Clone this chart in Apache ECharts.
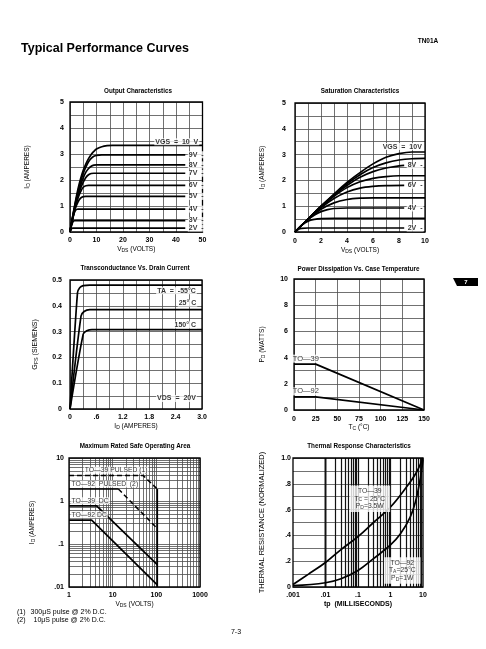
<!DOCTYPE html>
<html><head><meta charset="utf-8"><title>TN01A Typical Performance Curves</title>
<script src="https://cdn.jsdelivr.net/npm/echarts@6/dist/echarts.min.js"></script>
<style>html,body{margin:0;padding:0;background:#fff;}#c{width:486px;height:649px;}</style>
</head><body><div id="c"></div>
<script>
const FONT = '"Liberation Sans", Arial, Helvetica, sans-serif';

// ================= DATA =================
// Output Characteristics: [VDS (V), ID (A)] per VGS
const out10 = [[0,0],[1,0.6],[2,1.15],[3,1.65],[4,2.05],[5,2.37],[6,2.62],[7,2.82],[8,2.98],[9,3.1],[10,3.19],[12,3.28],[14,3.32],[16,3.33],[50,3.33]];
const out9  = [[0,0],[1,0.58],[2,1.1],[3,1.55],[4,1.93],[5,2.25],[6,2.5],[7,2.7],[8,2.83],[9,2.91],[10,2.95],[12,2.97],[43.5,2.97]];
const out8  = [[0,0],[1,0.56],[2,1.05],[3,1.45],[4,1.8],[5,2.08],[6,2.3],[7,2.44],[8,2.53],[9,2.57],[10,2.58],[43.5,2.58]];
const out7  = [[0,0],[1,0.54],[2,1.0],[3,1.38],[4,1.68],[5,1.92],[6,2.1],[7,2.2],[8,2.25],[9,2.26],[43.5,2.26]];
const out6  = [[0,0],[1,0.52],[2,0.95],[3,1.3],[4,1.55],[5,1.72],[6,1.78],[7,1.79],[43.5,1.79]];
const out5  = [[0,0],[1,0.5],[2,0.9],[3,1.15],[4,1.3],[5,1.36],[6,1.37],[43.5,1.37]];
const out4  = [[0,0],[0.5,0.3],[1,0.52],[1.5,0.7],[2,0.82],[2.5,0.87],[3,0.88],[43.5,0.88]];
const out3  = [[0,0],[0.5,0.22],[1,0.37],[1.5,0.43],[2,0.44],[43.5,0.44]];
const out2  = [[0,0],[0.3,0.08],[0.6,0.13],[1,0.15],[43.5,0.15]];
const outLabeled = [out9,out8,out7,out6,out5,out4,out3,out2];
const outNames = ['9V','8V','7V','6V','5V','4V','3V','2V'];

// Saturation Characteristics: [VDS (V), ID (A)]
const sat10 = [[0,0],[1,0.5],[2,1.0],[3,1.47],[4,1.92],[5,2.3],[6,2.64],[7,2.9],[8,3.04],[9,3.1],[10,3.1]];
const sat9  = [[0,0],[1,0.5],[2,1.0],[3,1.45],[4,1.87],[5,2.22],[6,2.5],[7,2.68],[8,2.79],[9,2.84],[10,2.85]];
const sat8  = [[0,0],[1,0.5],[2,0.99],[3,1.42],[4,1.8],[5,2.12],[6,2.34],[7,2.48],[8,2.56],[8.4,2.58]];
const sat7  = [[0,0],[1,0.5],[2,0.97],[3,1.38],[4,1.72],[5,1.95],[6,2.08],[7,2.15],[8,2.18],[10,2.18]];
const sat6  = [[0,0],[1,0.5],[2,0.94],[3,1.3],[4,1.55],[5,1.7],[6,1.77],[7,1.8],[8.4,1.81]];
const sat5  = [[0,0],[1,0.49],[2,0.88],[3,1.13],[4,1.26],[5,1.31],[6,1.32],[10,1.32]];
const sat4  = [[0,0],[0.5,0.26],[1,0.48],[1.5,0.66],[2,0.79],[2.5,0.87],[3,0.91],[4,0.93],[8.4,0.93]];
const sat3  = [[0,0],[0.5,0.26],[1,0.42],[1.5,0.49],[2,0.52],[3,0.53],[10,0.53]];
const sat2  = [[0,0],[0.25,0.1],[0.5,0.14],[1,0.155],[8.4,0.155]];
const satLabeled = [sat8,sat6,sat4,sat2];
const satNames = ['8V','6V','4V','2V'];

// Transconductance: [ID (A), gfs (S)]
const gfsM55 = [[0,0],[0.17,0.45],[0.22,0.47],[0.3,0.478],[0.45,0.48],[3.0,0.48]];
const gfs25  = [[0,0],[0.25,0.36],[0.32,0.378],[0.45,0.385],[3.0,0.385]];
const gfs150 = [[0,0],[0.3,0.29],[0.38,0.303],[0.5,0.308],[3.0,0.308]];

// Power dissipation: [TC (°C), PD (W)]
const pdTO39 = [[0,3.5],[25,3.5],[150,0]];
const pdTO92 = [[0,1.0],[25,1.0],[150,0]];

// Safe operating area: [VDS (V), ID (A)]
const soaTO39Pulsed = [[1,3.9],[50,3.9],[105,1.9]];
const soaTO92Flat   = [[1,1.9],[13.5,1.9]];
const soaTO92Pulsed = [[13.5,1.9],[105,0.23]];
const soaTO39DC     = [[1,0.77],[4.3,0.77],[105,0.033]];
const soaTO92DC     = [[1,0.36],[3.3,0.36],[105,0.0112]];
const soaVmax       = [[105,1.9],[105,0.01]];

// Thermal response: [tp (ms), normalized thermal resistance]
const thTO39 = [[0.001,0.02],[0.003,0.1],[0.01,0.19],[0.03,0.29],[0.1,0.39],[0.3,0.5],[1,0.62],[3,0.77],[6,0.88],[10,1.0]];
const thTO92 = [[0.001,0.01],[0.01,0.033],[0.03,0.064],[0.1,0.128],[0.3,0.22],[1,0.326],[2,0.41],[4,0.54],[6,0.67],[8,0.82],[10,0.99]];

// Tick labels
const outXTicks = ['0','10','20','30','40','50'];
const outYTicks = ['0','1','2','3','4','5'];
const satXTicks = ['0','2','4','6','8','10'];
const gfsXTicks = ['0','.6','1.2','1.8','2.4','3.0'];
const gfsYTicks = ['0','0.1','0.2','0.3','0.4','0.5'];
const pdXTicks  = ['0','25','50','75','100','125','150'];
const pdYTicks  = ['0','2','4','6','8','10'];
const soaXTicks = ['1','10','100','1000'];
const soaYTicks = ['.01','.1','1','10'];
const thXTicks  = ['.001','.01','.1','1','10'];
const thYTicks  = ['0','.2','.4','.6','.8','1.0'];

// ================= CHART =================
const chart = echarts.init(document.getElementById('c'), null, {renderer:'canvas', width:486, height:649});

const gridLine = {color:'#4d4d4d', width:0.8};
const RICH = {
  n:{fontSize:6.5, lineHeight:8, fontFamily:FONT, color:'#000'},
  s:{fontSize:5, lineHeight:5, verticalAlign:'bottom', fontFamily:FONT, color:'#000'}
};

function lin(gi, min, max, interval, ticks, margin, minorN) {
  const a = {type:'value', gridIndex:gi, min, max, interval,
    axisLine:{show:false}, axisTick:{show:false},
    axisLabel:{margin, fontFamily:FONT, fontSize:7, fontWeight:'bold', color:'#000',
      formatter:v => ticks[Math.round((v - min) / interval)]},
    splitLine:{show:true, lineStyle:gridLine}};
  if (minorN) {
    a.minorTick = {show:false, splitNumber:minorN};
    a.minorSplitLine = {show:true, lineStyle:gridLine};
  }
  return a;
}
function logAx(gi, min, max, ticks, margin, split) {
  return {type:'log', logBase:10, gridIndex:gi, min, max,
    axisLine:{show:false}, axisTick:{show:false},
    axisLabel:{margin, fontFamily:FONT, fontSize:7, fontWeight:'bold', color:'#000',
      formatter:v => ticks[Math.round(Math.log10(v / min))]},
    splitLine:{show:split !== false, lineStyle:gridLine}};
}
function named(axis, name, gap, extra, rich) {
  return Object.assign(axis, {name, nameLocation:'middle', nameGap:gap,
    nameTextStyle:Object.assign({fontFamily:FONT, fontSize:6.5, color:'#000', rich:rich || RICH}, extra || {})});
}

const VDS = '{n|V}{s|DS}{n| (VOLTS)}';
const IDA = '{n|I}{s|D}{n| (AMPERES)}';
const RICH7 = {
  n:{fontSize:7, lineHeight:8, fontFamily:FONT, color:'#000'},
  s:{fontSize:5.5, lineHeight:5, verticalAlign:'bottom', fontFamily:FONT, color:'#000'}
};

const grids = [
  {left:70,  top:102, width:132.5, height:130},
  {left:295, top:103, width:130, height:129},
  {left:70,  top:280, width:132, height:129},
  {left:294, top:279, width:130, height:131},
  {left:69,  top:458, width:131, height:129},
  {left:293, top:458, width:130, height:129}
].map(g => Object.assign({show:true, borderColor:'#000', borderWidth:1.3, backgroundColor:'transparent', z:2}, g));

const xAxis = [
  named(lin(0, 0, 50, 10, outXTicks, 5, 2), VDS, 13.5),
  named(lin(1, 0, 10, 2, satXTicks, 6, 2), VDS, 14),
  named(lin(2, 0, 3, 0.6, gfsXTicks, 5, 2), IDA, 13),
  named(lin(3, 0, 150, 25, pdXTicks, 6, 0), '{n|T}{s|C}{n| (°C)}', 13),
  named(logAx(4, 1, 1000, soaXTicks, 5), VDS, 13),
  named(logAx(5, 0.001, 10, thXTicks, 5, false), 'tp  (MILLISECONDS)', 14, {fontWeight:'bold', fontSize:7})
];
const yAxis = [
  named(lin(0, 0, 5, 1, outYTicks, 6, 2), IDA, 38.5),
  named(lin(1, 0, 5, 1, outYTicks, 9, 2), IDA, 28.5),
  named(lin(2, 0, 0.5, 0.1, gfsYTicks, 8, 2), '{n|G}{s|FS}{n| (SIEMENS)}', 31, null, RICH7),
  named(lin(3, 0, 10, 2, pdYTicks, 6, 2), '{n|P}{s|D}{n| (WATTS)}', 27.5),
  named(logAx(4, 0.01, 10, soaYTicks, 5), IDA, 32.5),
  named(lin(5, 0, 1, 0.2, thYTicks, 2, 2), 'THERMAL RESISTANCE (NORMALIZED)', 27, {fontSize:7.5})
];

function curve(gi, data, opts) {
  return Object.assign({type:'line', xAxisIndex:gi, yAxisIndex:gi, data, symbol:'none',
    smooth:0.35, silent:true, z:3, lineStyle:{color:'#000', width:1.7}}, opts || {});
}
function notes(gi, items, base) {
  return {type:'scatter', xAxisIndex:gi, yAxisIndex:gi, symbol:'circle', symbolSize:1, silent:true, z:5, clip:false,
    itemStyle:{color:'rgba(0,0,0,0)'},
    data:items.map(it => ({value:[it.x, it.y],
      label:Object.assign({show:true, formatter:it.t, position:it.pos || 'inside', distance:it.d == null ? 2 : it.d}, base, it.lbl || {})}))};
}
function gridLines(gi, axis, vals, style) {
  return {type:'line', xAxisIndex:gi, yAxisIndex:gi, data:[], silent:true, z:1,
    markLine:{silent:true, z:1, symbol:['none','none'], label:{show:false}, animation:false,
      lineStyle:Object.assign({type:'solid'}, style),
      data:vals.map(v => axis === 'x' ? {xAxis:v} : {yAxis:v})}};
}
function decadeMinors(decades, from) {
  const r = [];
  decades.forEach(d => { for (let m = from; m <= 9; m++) r.push(Number((d * m).toPrecision(3))); });
  return r;
}

const LBLB = {fontFamily:FONT, fontSize:7, fontWeight:'bold', color:'#000', backgroundColor:'#fff', padding:[0,1]};
const LBLN = {fontFamily:FONT, fontSize:7, color:'#000', backgroundColor:'#fff', padding:[0,1],
  rich:{n:{fontSize:7, fontFamily:FONT, color:'#000'}, s:{fontSize:5, lineHeight:5, verticalAlign:'bottom', fontFamily:FONT, color:'#000'}}};
const last = d => d[d.length - 1];

const series = [];
// 1 Output
[out10,out9,out8,out7,out6,out5,out4,out3,out2].forEach(d => series.push(curve(0, d)));
series.push(notes(0, [{x:40.3, y:3.47, t:'VGS  =  10  V'}].concat(
  outLabeled.map((d,i) => ({x:last(d)[0], y:last(d)[1], t:outNames[i] + '  -', pos:'right', d:2}))), LBLB));
// 2 Saturation
[sat10,sat9,sat8,sat7,sat6,sat5,sat4,sat3,sat2].forEach(d => series.push(curve(1, d)));
series.push(notes(1, [{x:8.25, y:3.31, t:'VGS  =  10V'}].concat(
  satLabeled.map((d,i) => ({x:last(d)[0], y:last(d)[1], t:satNames[i] + '  -', pos:'right', d:2}))), LBLB));
// 3 Transconductance
[gfsM55,gfs25,gfs150].forEach(d => series.push(curve(2, d, {smooth:0.25})));
series.push(notes(2, [
  {x:2.42, y:0.458, t:'TA  =  -55°C'},
  {x:2.67, y:0.41, t:'25° C'},
  {x:2.62, y:0.326, t:'150° C'},
  {x:2.42, y:0.041, t:'VDS  =  20V'}
], Object.assign({}, LBLN, {fontWeight:'bold'})));
// 4 Power dissipation
[pdTO39, pdTO92].forEach(d => series.push(curve(3, d, {smooth:false})));
series.push(notes(3, [
  {x:13.6, y:3.5, t:'TO—39', pos:'top', d:1},
  {x:13.6, y:1.0, t:'TO—92', pos:'top', d:1}
], Object.assign({}, LBLN, {fontSize:7.5, padding:[0,1,0,1]})));
// 5 SOA
series.push(gridLines(4, 'x', decadeMinors([1,10,100], 2), gridLine));
series.push(gridLines(4, 'y', decadeMinors([0.01,0.1,1], 2), gridLine));
series.push(curve(4, soaTO39Pulsed, {smooth:false, lineStyle:{color:'#000', width:1.5, type:[5,3]}}));
series.push(curve(4, soaTO92Flat, {smooth:false, lineStyle:{color:'#000', width:1.3}}));
series.push(curve(4, soaTO92Pulsed, {smooth:false, lineStyle:{color:'#000', width:1.5, type:[5,3]}}));
series.push(curve(4, soaTO39DC, {smooth:false}));
series.push(curve(4, soaTO92DC, {smooth:false}));
series.push(curve(4, soaVmax, {smooth:false}));
series.push(notes(4, [
  {x:12, y:5.2, t:'TO—39 PULSED (1)'},
  {x:1.05, y:2.5, t:'TO—92  PULSED  (2)', pos:'right', d:0},
  {x:1.05, y:1.02, t:'TO—39  DC', pos:'right', d:0},
  {x:1.05, y:0.48, t:'TO—92 DC', pos:'right', d:0}
], Object.assign({}, LBLN, {fontSize:6.8})));
// 6 Thermal
series.push(gridLines(5, 'x', decadeMinors([0.001,0.01,0.1,1], 1).filter(v => v > 0.001), {color:'#111', width:1.2}));
[thTO39, thTO92].forEach(d => series.push(curve(5, d, {smooth:0.4})));
series.push(notes(5, [
  {x:0.23, y:0.685, t:'{n|TO—39}\n{n|T}{s|C}{n| = 25°C}\n{n|P}{s|D}{n|=3.5W}'},
  {x:2.3, y:0.128, t:'{n|TO—92}\n{n|T}{s|A}{n|=25°C}\n{n|P}{s|D}{n|=1W}'}
], Object.assign({}, LBLN, {padding:[2,5,2,5], align:'center',
  rich:{n:{fontSize:6.8, lineHeight:7.5, fontFamily:FONT, color:'#000'}, s:{fontSize:5, lineHeight:5, verticalAlign:'bottom', fontFamily:FONT, color:'#000'}}})));

// ---- free text ----
function txt(x, y, t, fs, fw, al, fill) {
  return {type:'text', x, y, silent:true, z:10,
    style:{text:t, fill:fill || '#000', fontSize:fs, fontWeight:fw || 'normal', fontFamily:FONT,
      align:al || 'center', verticalAlign:'middle'}};
}
const graphic = [
  txt(21, 48.5, 'Typical Performance Curves', 12.5, 'bold', 'left'),
  txt(428, 41, 'TN01A', 6.5, 'bold'),
  txt(138, 91.7, 'Output Characteristics', 6.3, 'bold'),
  txt(360, 91.7, 'Saturation Characteristics', 6.3, 'bold'),
  txt(135, 268.5, 'Transconductance Vs. Drain Current', 6.3, 'bold'),
  txt(358.5, 269, 'Power Dissipation Vs. Case Temperature', 6.3, 'bold'),
  txt(135, 446, 'Maximum Rated Safe Operating Area', 6.3, 'bold'),
  txt(359, 446, 'Thermal Response Characteristics', 6.3, 'bold'),
  txt(17, 612, '(1)', 7, 'normal', 'left'),
  txt(30.5, 612, '300μS pulse @ 2% D.C.', 7, 'normal', 'left'),
  txt(17, 620, '(2)', 7, 'normal', 'left'),
  txt(33.5, 620, '10μS pulse @ 2% D.C.', 7, 'normal', 'left'),
  txt(236, 632, '7-3', 7, 'normal'),
  {type:'polygon', silent:true, z:10, shape:{points:[[453,278],[478,278],[478,286],[457,286]]}, style:{fill:'#000'}},
  txt(466, 282, '7', 6, 'bold', 'center', '#fff')
];

chart.setOption({
  animation:false,
  backgroundColor:'#fff',
  textStyle:{fontFamily:FONT},
  grid:grids, xAxis, yAxis, series, graphic
});
</script></body></html>
